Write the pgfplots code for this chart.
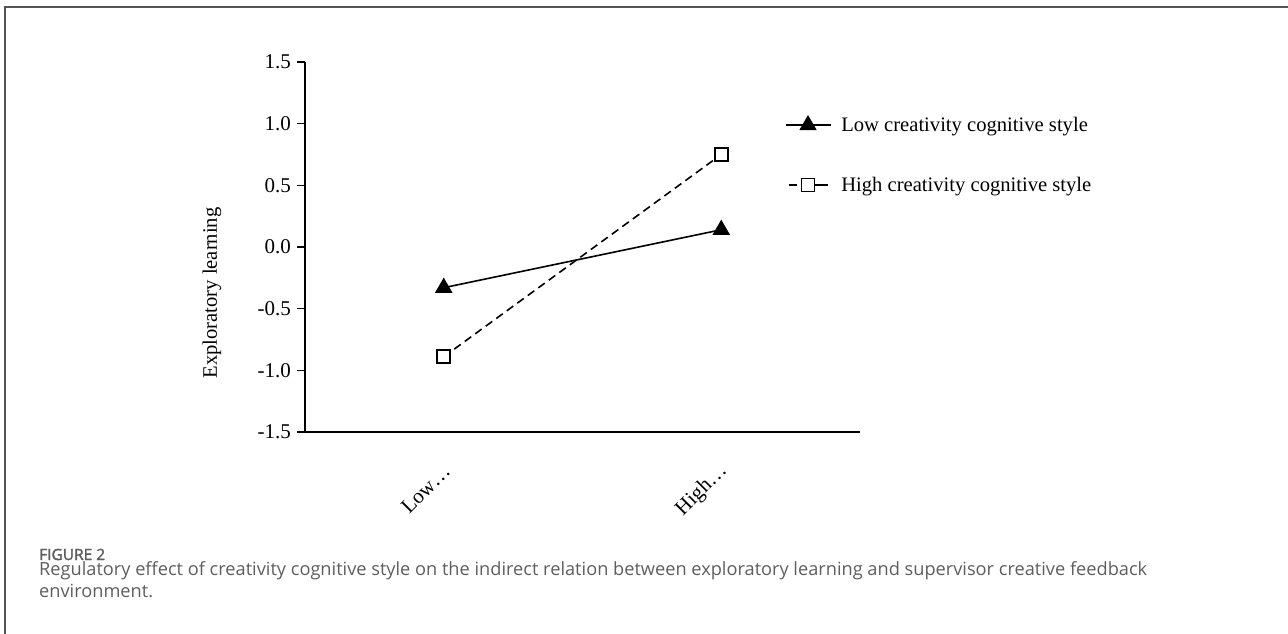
\documentclass[border=0pt]{standalone}
\usepackage{fontspec}
\setmainfont{Liberation Serif}
\newfontfamily\capfont{Open Sans}
\newfontfamily\capfontb[FakeBold=2]{Open Sans}
\usepackage{pgfplots}
\pgfplotsset{compat=1.18}
\definecolor{capgray}{HTML}{5E5E5E}
\definecolor{framegray}{HTML}{555555}
\begin{document}
\begin{tikzpicture}
\path[use as bounding box] (0pt,0pt) rectangle (1288pt,-634pt);
\draw[framegray, line width=2pt] (5pt,-634pt) -- (5pt,-7pt) -- (1288pt,-7pt);
\begin{axis}[
  at={(305pt,-432pt)}, anchor=south west,
  scale only axis, width=555pt, height=370pt,
  xmin=-0.5, xmax=1.5, ymin=-1.5, ymax=1.5,
  clip=false,
  axis x line*=bottom, axis y line*=left,
  axis line style={-, line width=1.6pt, black},
  xtick={0,1}, xticklabels={Low…, High…},
  x tick style={draw=none},
  ytick={-1.5,-1,-0.5,0,0.5,1,1.5},
  yticklabels={{-1.5},{-1.0},{-0.5},{0.0},{0.5},{1.0},{1.5}},
  y tick style={line width=1.6pt, black},
  tick align=outside, major tick length=8pt,
  tick label style={font=\fontsize{21}{24}\selectfont},
  yticklabel style={xshift=-2.5pt},
  xticklabel style={xshift=3pt, yshift=-28pt, rotate=45, anchor=east, inner sep=0pt},
  ylabel={Exploratory learning},
  every axis y label/.style={at={(axis description cs:-0.1676,0.3757)}, rotate=90, anchor=center, font=\fontsize{20.6}{24}\selectfont},
  legend style={draw=none, fill=none, inner sep=0pt, at={(axis description cs:0.8640,0.7486)}, anchor=west,
    font=\fontsize{20.6}{24}\selectfont, row sep=40pt,
    /tikz/every odd column/.append style={column sep=8pt}},
  legend cell align=left,
  legend image code/.code={\draw[mark repeat=2, mark phase=2] plot coordinates {(0pt,0pt) (22.5pt,0pt) (45pt,0pt)};},
]
\addplot[black, line width=1.6pt, mark=triangle*, mark size=8.5pt, mark options={solid}]
  coordinates {(0,-0.33) (1,0.14)};
\addlegendentry{Low creativity cognitive style}
\addplot[black, line width=1.6pt, dash pattern=on 8pt off 5pt, mark=square*, mark size=6.5pt,
  mark options={solid, fill=white, draw=black},
  legend image code/.code={%
    \draw[solid, line width=1.6pt] (3pt,0pt) -- (11pt,0pt) (29pt,0pt) -- (42pt,0pt);
    \draw[draw=none, mark repeat=2, mark phase=2] plot coordinates {(0pt,0pt) (22.5pt,0pt) (45pt,0pt)};}]
  coordinates {(0,-0.89) (1,0.75)};
\addlegendentry{High creativity cognitive style}
\end{axis}
\node[anchor=base west, inner sep=0pt, text=capgray, font=\capfontb\fontsize{15.5}{17}\selectfont] at (39pt,-560pt) {FIGURE 2};
\node[anchor=base west, inner sep=0pt, text=capgray, font=\capfont\fontsize{18.2}{22}\selectfont] at (39pt,-575pt) {Regulatory effect of creativity cognitive style on the indirect relation between exploratory learning and supervisor creative feedback};
\node[anchor=base west, inner sep=0pt, text=capgray, font=\capfont\fontsize{18.2}{22}\selectfont] at (39pt,-597pt) {environment.};
\end{tikzpicture}
\end{document}
